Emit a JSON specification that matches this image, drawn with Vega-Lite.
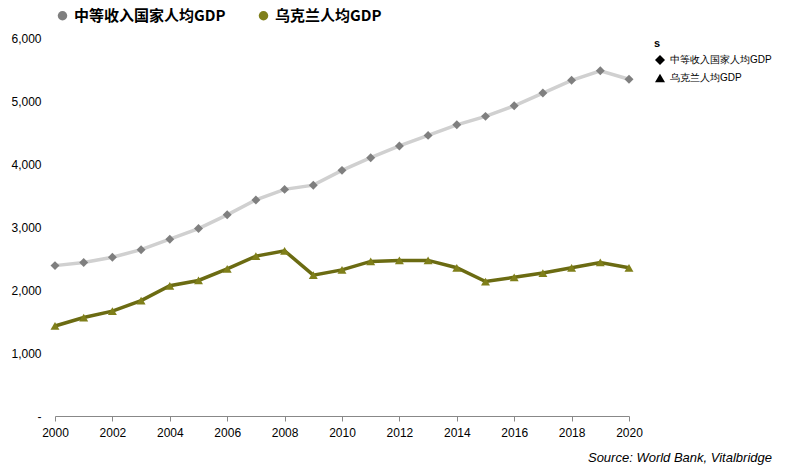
{
  "$schema": "https://vega.github.io/schema/vega-lite/v6.json",
  "width": 797,
  "height": 473,
  "autosize": {"type": "fit", "contains": "padding"},
  "padding": {"left": 10, "right": 25, "top": 8, "bottom": 8},
  "config": {"font": "Liberation Sans", "view": {"stroke": null}},
  "title": {"text": "Source: World Bank, Vitalbridge", "orient": "bottom", "anchor": "end", "fontStyle": "italic", "fontWeight": "normal", "fontSize": 13, "color": "#000", "offset": 14},
  "data": {"values": [
    {"year": 2000, "s": "中等收入国家人均GDP", "v": 2387},
    {"year": 2001, "s": "中等收入国家人均GDP", "v": 2437},
    {"year": 2002, "s": "中等收入国家人均GDP", "v": 2520},
    {"year": 2003, "s": "中等收入国家人均GDP", "v": 2640},
    {"year": 2004, "s": "中等收入国家人均GDP", "v": 2807},
    {"year": 2005, "s": "中等收入国家人均GDP", "v": 2975},
    {"year": 2006, "s": "中等收入国家人均GDP", "v": 3193},
    {"year": 2007, "s": "中等收入国家人均GDP", "v": 3430},
    {"year": 2008, "s": "中等收入国家人均GDP", "v": 3597},
    {"year": 2009, "s": "中等收入国家人均GDP", "v": 3664},
    {"year": 2010, "s": "中等收入国家人均GDP", "v": 3899},
    {"year": 2011, "s": "中等收入国家人均GDP", "v": 4100},
    {"year": 2012, "s": "中等收入国家人均GDP", "v": 4286},
    {"year": 2013, "s": "中等收入国家人均GDP", "v": 4454},
    {"year": 2014, "s": "中等收入国家人均GDP", "v": 4622},
    {"year": 2015, "s": "中等收入国家人均GDP", "v": 4756},
    {"year": 2016, "s": "中等收入国家人均GDP", "v": 4924},
    {"year": 2017, "s": "中等收入国家人均GDP", "v": 5126},
    {"year": 2018, "s": "中等收入国家人均GDP", "v": 5328},
    {"year": 2019, "s": "中等收入国家人均GDP", "v": 5479},
    {"year": 2020, "s": "中等收入国家人均GDP", "v": 5345},
    {"year": 2000, "s": "乌克兰人均GDP", "v": 1429},
    {"year": 2001, "s": "乌克兰人均GDP", "v": 1563},
    {"year": 2002, "s": "乌克兰人均GDP", "v": 1664},
    {"year": 2003, "s": "乌克兰人均GDP", "v": 1832},
    {"year": 2004, "s": "乌克兰人均GDP", "v": 2067},
    {"year": 2005, "s": "乌克兰人均GDP", "v": 2151},
    {"year": 2006, "s": "乌克兰人均GDP", "v": 2336},
    {"year": 2007, "s": "乌克兰人均GDP", "v": 2538},
    {"year": 2008, "s": "乌克兰人均GDP", "v": 2622},
    {"year": 2009, "s": "乌克兰人均GDP", "v": 2235},
    {"year": 2010, "s": "乌克兰人均GDP", "v": 2319},
    {"year": 2011, "s": "乌克兰人均GDP", "v": 2454},
    {"year": 2012, "s": "乌克兰人均GDP", "v": 2470},
    {"year": 2013, "s": "乌克兰人均GDP", "v": 2470},
    {"year": 2014, "s": "乌克兰人均GDP", "v": 2353},
    {"year": 2015, "s": "乌克兰人均GDP", "v": 2134},
    {"year": 2016, "s": "乌克兰人均GDP", "v": 2202},
    {"year": 2017, "s": "乌克兰人均GDP", "v": 2269},
    {"year": 2018, "s": "乌克兰人均GDP", "v": 2353},
    {"year": 2019, "s": "乌克兰人均GDP", "v": 2437},
    {"year": 2020, "s": "乌克兰人均GDP", "v": 2353}
  ]},
  "encoding": {
    "x": {"field": "year", "type": "quantitative", "scale": {"domain": [2000, 2020], "nice": false, "zero": false},
      "axis": {"title": null, "values": [2000,2002,2004,2006,2008,2010,2012,2014,2016,2018,2020], "format": "d", "grid": false, "labelFlush": false, "labelFontSize": 12, "labelColor": "#000", "domainColor": "#888", "tickColor": "#888", "labelPadding": 6}},
    "y": {"field": "v", "type": "quantitative", "scale": {"domain": [0, 6000]},
      "axis": {"title": null, "tickCount": 6, "grid": false, "domain": false, "ticks": false, "labelExpr": "datum.value == 0 ? '-' : format(datum.value, ',')", "labelFontSize": 12, "labelColor": "#000", "labelPadding": 14}}
  },
  "layer": [
    {"mark": {"type": "line", "strokeWidth": 3.5},
     "encoding": {"color": {"field": "s", "type": "nominal", "scale": {"domain": ["中等收入国家人均GDP", "乌克兰人均GDP"], "range": ["#d0d0d0", "#6b6b12"]}, "legend": null}}},
    {"mark": {"type": "point", "filled": true, "size": 80, "opacity": 1},
     "encoding": {
       "color": {"field": "s", "type": "nominal", "scale": {"domain": ["中等收入国家人均GDP", "乌克兰人均GDP"], "range": ["#7f7f7f", "#7f7f1a"]},
         "legend": {"title": null, "orient": "top", "direction": "horizontal", "labelFont": "Noto Sans CJK SC", "labelFontSize": 15, "labelFontWeight": "bold", "labelColor": "#000", "columnPadding": 30, "symbolSize": 90, "offset": 14}},
       "shape": {"field": "s", "type": "nominal", "scale": {"domain": ["中等收入国家人均GDP", "乌克兰人均GDP"], "range": ["diamond", "triangle-up"]}}
     }}
  ],
  "resolve": {"scale": {"color": "independent"}, "legend": {"color": "independent"}}
}
